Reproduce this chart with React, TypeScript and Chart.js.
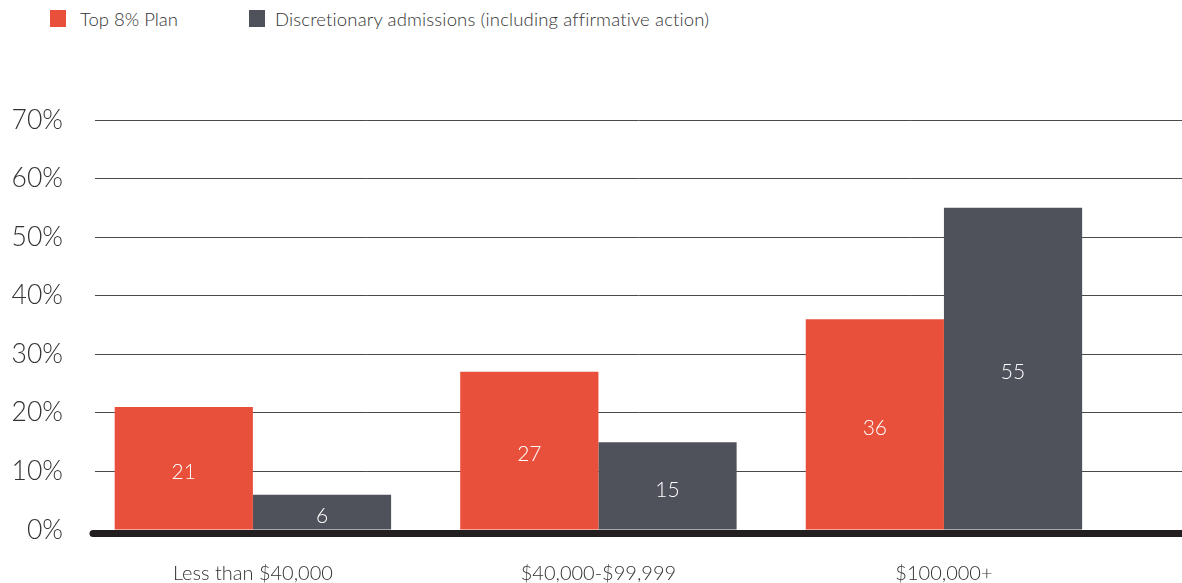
import React, { useEffect, useRef } from "react";
import { Chart, registerables } from "chart.js";

Chart.register(...registerables);

const categories = ["Less than $40,000", "$40,000-$99,999", "$100,000+"];
const seriesNames = ["Top 8% Plan", "Discretionary admissions (including affirmative action)"];
const top8Plan = [21, 27, 36];
const discretionary = [6, 15, 55];
const yTicks = [0, 10, 20, 30, 40, 50, 60, 70];

const RED = "#E8503B";
const GRAY = "#50525B";
const FONT = "Lato, 'Open Sans', sans-serif";

const valueLabels = {
  id: "valueLabels",
  afterDatasetsDraw(chart: any) {
    const ctx = chart.ctx;
    ctx.save();
    ctx.fillStyle = "#ffffff";
    ctx.font = `300 21px ${FONT}`;
    ctx.textAlign = "center";
    ctx.textBaseline = "middle";
    chart.data.datasets.forEach((ds: any, di: number) => {
      const meta = chart.getDatasetMeta(di);
      meta.data.forEach((el: any, i: number) => {
        const v = ds.data[i].y;
        const y = (el.y + el.base) / 2 + 4;
        ctx.fillText(String(v), el.x, y);
      });
    });
    ctx.restore();
  },
};

const baseLine = {
  id: "baseLine",
  afterDatasetsDraw(chart: any) {
    const { ctx, chartArea, scales } = chart;
    const y0 = scales.y.getPixelForValue(0) + 3.5;
    ctx.save();
    ctx.strokeStyle = "#231F20";
    ctx.lineWidth = 7;
    ctx.lineCap = "round";
    ctx.beginPath();
    ctx.moveTo(chartArea.left - 2, y0);
    ctx.lineTo(chartArea.right + 10, y0);
    ctx.stroke();
    ctx.restore();
  },
};

export default function App() {
  const ref = useRef<HTMLCanvasElement | null>(null);

  useEffect(() => {
    if (!ref.current) return;
    const chart = new Chart(ref.current, {
      type: "bar",
      data: {
        datasets: [
          {
            label: seriesNames[0],
            data: top8Plan.map((y, i) => ({ x: i, y })),
            backgroundColor: RED,
            categoryPercentage: 0.8,
            barPercentage: 1.0,
          },
          {
            label: seriesNames[1],
            data: discretionary.map((y, i) => ({ x: i, y })),
            backgroundColor: GRAY,
            categoryPercentage: 0.8,
            barPercentage: 1.0,
          },
        ],
      },
      options: {
        animation: false,
        responsive: false,
        maintainAspectRatio: false,
        layout: { padding: { top: 120, left: 0, right: 0, bottom: 0 } },
        plugins: {
          legend: { display: false },
          tooltip: { enabled: false },
        },
        scales: {
          x: {
            type: "linear",
            offset: false,
            min: -0.457,
            max: 2.689,
            grid: { display: false, drawTicks: false, offset: false },
            border: { display: false },
            afterBuildTicks: (axis: any) => {
              axis.ticks = categories.map((_, i) => ({ value: i }));
            },
            afterFit: (axis: any) => {
              axis.height = 53;
            },
            ticks: {
              autoSkip: false,
              maxRotation: 0,
              padding: 32,
              color: "#333333",
              font: { family: FONT, size: 20, weight: "300" as any },
              callback: (v: any) => categories[v as number] ?? "",
            },
          },
          y: {
            min: 0,
            max: 70,
            afterBuildTicks: (axis: any) => {
              axis.ticks = yTicks.map((v) => ({ value: v }));
            },
            afterFit: (axis: any) => {
              axis.width = 95;
            },
            grid: {
              color: "#4a4a4a",
              lineWidth: 1,
              drawTicks: false,
            },
            border: { display: false },
            ticks: {
              padding: 32,
              color: "#333333",
              font: { family: FONT, size: 26.5, weight: "300" as any },
              callback: (v: any) => `${v}%`,
            },
          },
        },
      },
      plugins: [valueLabels, baseLine],
    });
    return () => chart.destroy();
  }, []);

  const legendText: React.CSSProperties = {
    fontFamily: FONT,
    fontWeight: 300,
    fontSize: 18.5,
    color: "#333333",
    position: "absolute",
    top: 8,
    lineHeight: "22px",
    whiteSpace: "nowrap",
  };

  return (
    <div style={{ position: "absolute", left: 0, top: 0, width: 1182, height: 583, background: "#fff" }}>
      <div style={{ position: "absolute", left: 50, top: 10, width: 16, height: 17, background: RED }} />
      <div style={{ ...legendText, left: 80 }}>{seriesNames[0]}</div>
      <div style={{ position: "absolute", left: 249, top: 10, width: 16, height: 17, background: GRAY }} />
      <div style={{ ...legendText, left: 275, letterSpacing: "0.15px" }}>{seriesNames[1]}</div>
      <canvas ref={ref} width={1182} height={583} style={{ position: "absolute", left: 0, top: 0 }} />
    </div>
  );
}
